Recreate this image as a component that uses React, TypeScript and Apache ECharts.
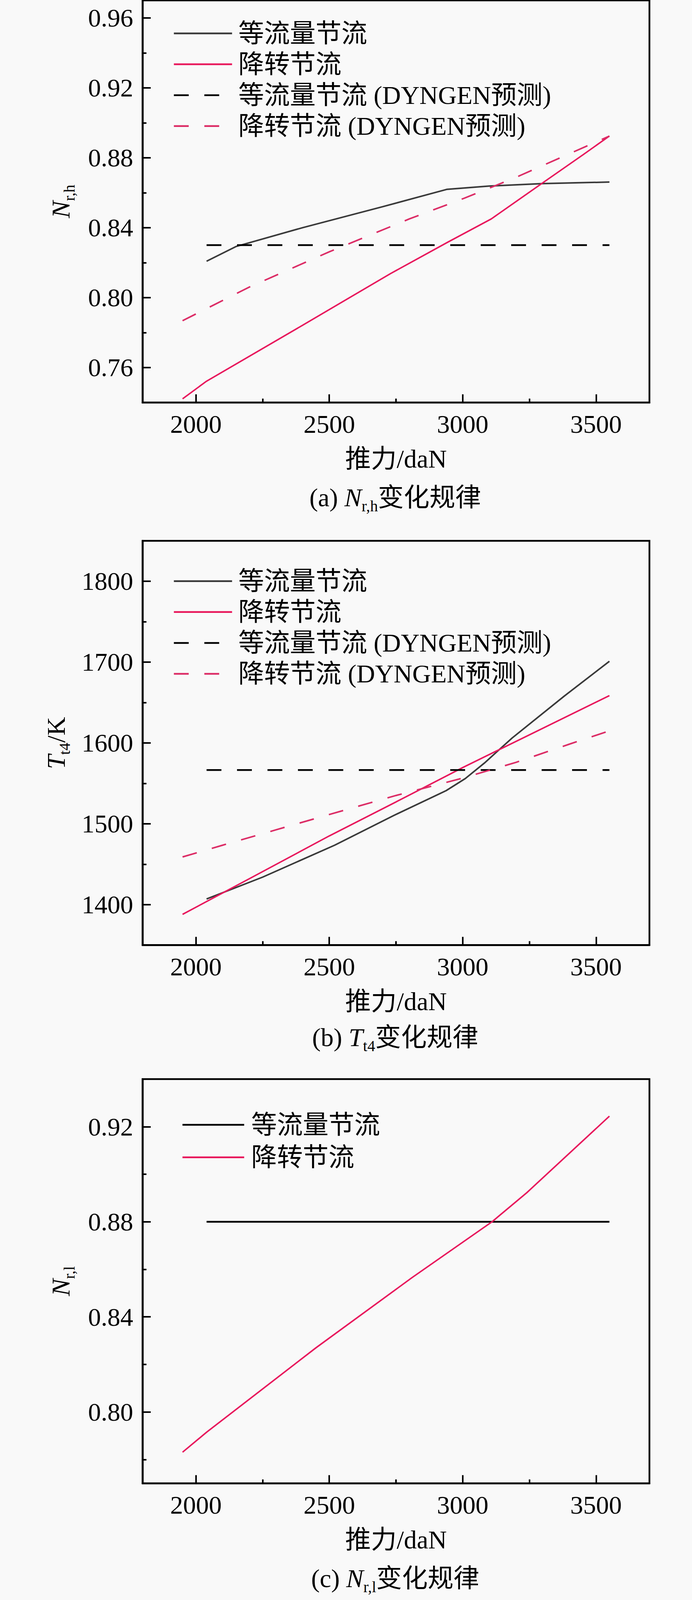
import React, { useEffect, useRef } from "react";
import * as echarts from "echarts";

const FONT = "'Liberation Serif', 'Noto Sans CJK SC', serif";
const BG = "#f9f9f9";
const RED = "#e8185c";
const RED_DASH = "#dc2d66";
const GRAY = "#3a3a3a";
const BLACK = "#000000";
const DASH = [38, 40];
const REF_H = 4142;

// Shared x axis
const X_MIN = 1800;
const X_MAX = 3700;
const xTickValues = [2000, 2500, 3000, 3500];
const xMinorValues = [2250, 2750, 3250];

// Legend names
const NAME_EQ = "等流量节流";
const NAME_RS = "降转节流";
const NAME_EQ_PRED = "等流量节流 (DYNGEN预测)";
const NAME_RS_PRED = "降转节流 (DYNGEN预测)";

// ---------- Panel (a): N_r,h ----------
const aYTicks = [0.76, 0.8, 0.84, 0.88, 0.92, 0.96];
const aYMinor = [0.78, 0.82, 0.86, 0.9, 0.94];
const aEqThrust = [2040, 2150, 2400, 2700, 2940, 3100, 3300, 3550];
const aEqValues = [0.8208, 0.8292, 0.84, 0.852, 0.8619, 0.8638, 0.8652, 0.8661];
const aRsThrust = [1950, 2040, 2400, 2729, 2944, 3107, 3296, 3452, 3550];
const aRsValues = [0.7421, 0.7522, 0.7842, 0.8137, 0.8317, 0.845, 0.8652, 0.8818, 0.8924];
const aEqPredThrust = [2040, 3550];
const aEqPredValues = [0.83, 0.83];
const aRsPredThrust = [1950, 2200, 2500, 2800, 3000, 3200, 3550];
const aRsPredValues = [0.7868, 0.806, 0.8262, 0.845, 0.8565, 0.8688, 0.8924];

// ---------- Panel (b): T_t4 ----------
const bYTicks = [1400, 1500, 1600, 1700, 1800];
const bYMinor = [1450, 1550, 1650, 1750];
const bEqThrust = [2040, 2250, 2520, 2740, 2938, 3010, 3081, 3185, 3381, 3550];
const bEqValues = [1407, 1434, 1473.5, 1510, 1541, 1556, 1575, 1606, 1658, 1701];
const bRsThrust = [1950, 2200, 2500, 2750, 3000, 3250, 3550];
const bRsValues = [1388, 1432, 1485, 1527, 1569.5, 1610, 1658.5];
const bEqPredThrust = [2040, 3550];
const bEqPredValues = [1566.5, 1566.5];
const bRsPredThrust = [1950, 2100, 2300, 2500, 2750, 3000, 3200, 3400, 3550];
const bRsPredValues = [1459, 1473.5, 1492.5, 1511.5, 1535, 1556.5, 1576, 1598.5, 1615];

// ---------- Panel (c): N_r,l ----------
const cYTicks = [0.8, 0.84, 0.88, 0.92];
const cYMinor = [0.78, 0.82, 0.86, 0.9];
const cEqThrust = [2040, 3550];
const cEqValues = [0.88, 0.88];
const cRsThrust = [1950, 2040, 2450, 2810, 3110, 3240, 3550];
const cRsValues = [0.7831, 0.7915, 0.827, 0.8565, 0.88, 0.8922, 0.9244];

const pairs = (xs: number[], ys: number[]) => xs.map((x, i) => [x, ys[i]]);

function lineSeries(name: string, xs: number[], ys: number[], color: string, width: number, dashed: boolean) {
  return {
    type: "line",
    name,
    data: pairs(xs, ys),
    symbol: "none",
    showSymbol: false,
    color,
    silent: true,
    lineStyle: { color, width, type: dashed ? DASH : "solid", cap: "butt" },
    emphasis: { disabled: true },
  };
}

const richBase = {
  n: { fontSize: 66, fontFamily: FONT, lineHeight: 84, fill: BLACK },
  i: { fontSize: 66, fontFamily: FONT, fontStyle: "italic", lineHeight: 84, fill: BLACK },
  s: { fontSize: 40, fontFamily: FONT, lineHeight: 40, verticalAlign: "bottom", fill: BLACK },
};

interface PanelCfg {
  yMin: number;
  yMax: number;
  yTicks: number[];
  yMinor: number[];
  yFmt: (v: number) => string;
  gridTop: number;
  gridBottom: number;
  legendLeft: number;
  legendTop: number;
  legendItemWidth: number;
  legendPitch: number;
  legendPad: number;
  legendNames: string[];
  series: any[];
  yNameText: string;
  yNameX: number;
  captionText: string;
  captionY: number;
}

function makeOption(cfg: PanelCfg, height: number, s: number) {
  const tickStyle = { color: BLACK, width: 4 };
  const labelStyle = { fontSize: 66, fontFamily: FONT, color: BLACK };
  const gTop = cfg.gridTop * s;
  const gBottom = cfg.gridBottom * s;
  const plotMidY = (gTop + (height - gBottom)) / 2;
  return {
    animation: false,
    backgroundColor: BG,
    grid: {
      left: 365,
      right: 109,
      top: gTop,
      bottom: gBottom,
      show: true,
      borderColor: BLACK,
      borderWidth: 4.5,
      backgroundColor: "transparent",
    },
    legend: {
      show: true,
      orient: "vertical",
      left: cfg.legendLeft,
      top: cfg.legendTop * s,
      padding: 0,
      itemWidth: cfg.legendItemWidth,
      itemHeight: 4,
      itemGap: cfg.legendPitch * s - 66,
      selectedMode: false,
      itemStyle: { opacity: 0 },
      lineStyle: { width: 4.5 },
      data: cfg.legendNames,
      textStyle: { ...labelStyle, lineHeight: 66, padding: [0, 0, 0, cfg.legendPad] },
    },
    xAxis: [
      {
        type: "value",
        min: X_MIN,
        max: X_MAX,
        position: "bottom",
        axisLine: { show: true, lineStyle: { color: BLACK, width: 4.5 } },
        axisTick: { show: true, inside: true, length: 21, lineStyle: tickStyle, customValues: xTickValues },
        axisLabel: {
          show: true,
          customValues: xTickValues,
          margin: 22,
          formatter: (v: number) => String(Math.round(v)),
          ...labelStyle,
        },
        splitLine: { show: false },
        name: "推力/daN",
        nameLocation: "middle",
        nameGap: 146 * s - 33,
        nameTextStyle: { ...labelStyle },
      },
      {
        type: "value",
        min: X_MIN,
        max: X_MAX,
        position: "bottom",
        axisLine: { show: false },
        axisTick: { show: true, inside: true, length: 10, lineStyle: tickStyle, customValues: xMinorValues },
        axisLabel: { show: false },
        splitLine: { show: false },
      },
    ],
    yAxis: [
      {
        type: "value",
        min: cfg.yMin,
        max: cfg.yMax,
        position: "left",
        axisLine: { show: true, lineStyle: { color: BLACK, width: 4.5 } },
        axisTick: { show: true, inside: true, length: 21, lineStyle: tickStyle, customValues: cfg.yTicks },
        axisLabel: { show: true, customValues: cfg.yTicks, margin: 24, formatter: cfg.yFmt, ...labelStyle },
        splitLine: { show: false },
      },
      {
        type: "value",
        min: cfg.yMin,
        max: cfg.yMax,
        position: "left",
        axisLine: { show: false },
        axisTick: { show: true, inside: true, length: 10, lineStyle: tickStyle, customValues: cfg.yMinor },
        axisLabel: { show: false },
        splitLine: { show: false },
      },
    ],
    series: cfg.series,
    graphic: [
      {
        type: "text",
        x: cfg.yNameX,
        y: plotMidY,
        rotation: Math.PI / 2,
        silent: true,
        style: { text: cfg.yNameText, rich: richBase, align: "center", verticalAlign: "middle", fill: BLACK },
      },
      {
        type: "text",
        x: 1012,
        y: cfg.captionY * s,
        silent: true,
        style: { text: cfg.captionText, rich: richBase, align: "center", verticalAlign: "middle", fill: BLACK },
      },
    ],
  };
}

const panelA: PanelCfg = {
  yMin: 0.74,
  yMax: 0.97,
  yTicks: aYTicks,
  yMinor: aYMinor,
  yFmt: (v: number) => v.toFixed(2),
  gridTop: 1,
  gridBottom: 308,
  legendLeft: 443,
  legendTop: 53,
  legendItemWidth: 149,
  legendPitch: 80,
  legendPad: 11,
  legendNames: [NAME_EQ, NAME_RS, NAME_EQ_PRED, NAME_RS_PRED],
  series: [
    lineSeries(NAME_EQ, aEqThrust, aEqValues, GRAY, 4, false),
    lineSeries(NAME_RS, aRsThrust, aRsValues, RED, 3.8, false),
    lineSeries(NAME_EQ_PRED, aEqPredThrust, aEqPredValues, BLACK, 4.5, true),
    lineSeries(NAME_RS_PRED, aRsPredThrust, aRsPredValues, RED_DASH, 4, true),
  ],
  yNameText: "{i|N}{s|r,h}",
  yNameX: 155,
  captionText: "{n|(a) }{i|N}{s|r,h}{n|变化规律}",
  captionY: 1288,
};

const panelB: PanelCfg = {
  yMin: 1350,
  yMax: 1850,
  yTicks: bYTicks,
  yMinor: bYMinor,
  yFmt: (v: number) => String(Math.round(v)),
  gridTop: 50,
  gridBottom: 303,
  legendLeft: 443,
  legendTop: 121,
  legendItemWidth: 149,
  legendPitch: 80,
  legendPad: 11,
  legendNames: [NAME_EQ, NAME_RS, NAME_EQ_PRED, NAME_RS_PRED],
  series: [
    lineSeries(NAME_EQ, bEqThrust, bEqValues, GRAY, 4, false),
    lineSeries(NAME_RS, bRsThrust, bRsValues, RED, 3.8, false),
    lineSeries(NAME_EQ_PRED, bEqPredThrust, bEqPredValues, BLACK, 4.5, true),
    lineSeries(NAME_RS_PRED, bRsPredThrust, bRsPredValues, RED_DASH, 4, true),
  ],
  yNameText: "{i|T}{s|t4}{n|/K}",
  yNameX: 143,
  captionText: "{n|(b) }{i|T}{s|t4}{n|变化规律}",
  captionY: 1335,
};

const panelC: PanelCfg = {
  yMin: 0.77,
  yMax: 0.94,
  yTicks: cYTicks,
  yMinor: cYMinor,
  yFmt: (v: number) => v.toFixed(2),
  gridTop: 44,
  gridBottom: 302,
  legendLeft: 465,
  legendTop: 129,
  legendItemWidth: 158,
  legendPitch: 84,
  legendPad: 13,
  legendNames: [NAME_EQ, NAME_RS],
  series: [
    lineSeries(NAME_EQ, cEqThrust, cEqValues, BLACK, 4.5, false),
    lineSeries(NAME_RS, cRsThrust, cRsValues, RED, 3.8, false),
  ],
  yNameText: "{i|N}{s|r,l}",
  yNameX: 155,
  captionText: "{n|(c) }{i|N}{s|r,l}{n|变化规律}",
  captionY: 1336,
};

function Chart({ cfg, top, height, s }: { cfg: PanelCfg; top: number; height: number; s: number }) {
  const ref = useRef<HTMLDivElement>(null);
  useEffect(() => {
    if (!ref.current) return;
    const chart = echarts.init(ref.current, null, { renderer: "svg" });
    chart.setOption(makeOption(cfg, height, s) as any);
    return () => chart.dispose();
  }, [cfg, height, s]);
  return <div ref={ref} style={{ position: "absolute", left: 0, top, width: 1772, height }} />;
}

export default function App() {
  const vh = typeof window !== "undefined" && window.innerHeight > 0 ? window.innerHeight : REF_H;
  const s = Math.min(1, vh / REF_H);
  const tops = [0, 1350 * s, 2750 * s];
  const heights = [1350 * s, 1400 * s, (REF_H - 2750) * s];
  return (
    <div style={{ position: "absolute", left: 0, top: 0, width: 1772, height: REF_H * s, background: BG, overflow: "hidden" }}>
      <Chart cfg={panelA} top={tops[0]} height={heights[0]} s={s} />
      <Chart cfg={panelB} top={tops[1]} height={heights[1]} s={s} />
      <Chart cfg={panelC} top={tops[2]} height={heights[2]} s={s} />
    </div>
  );
}
